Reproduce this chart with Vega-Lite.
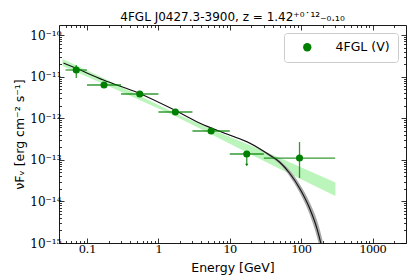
{
  "$schema": "https://vega.github.io/schema/vega-lite/v6.json",
  "width": 347,
  "height": 218,
  "autosize": {"type": "none"},
  "padding": {"left": 59, "top": 25, "right": 14, "bottom": 37},
  "background": "white",
  "title": {"text": "4FGL J0427.3-3900, z = 1.42⁺⁰˙¹²₋₀.₁₀", "font": "DejaVu Sans", "fontSize": 12, "fontWeight": "normal", "color": "black", "offset": 6, "baseline": "alphabetic", "dy": 14},
  "config": {
    "view": {"stroke": null},
    "axis": {"grid": false, "domainColor": "black", "domainWidth": 0.9, "tickColor": "black", "tickWidth": 0.8, "labelColor": "black", "labelFont": "Liberation Serif", "labelFontSize": 13.5, "labelFlush": false, "labelOverlap": false, "titleFont": "DejaVu Sans", "titleFontSize": 12.5, "titleFontWeight": "normal", "titleColor": "black"}
  },
  "datasets": {
    "pts": [
      {"E": 0.0707, "Elo": 0.05, "Ehi": 0.1, "F": 1.44e-11, "Flo": 9.25e-12, "Fhi": 1.90e-11, "src": "4FGL (V)"},
      {"E": 0.173, "Elo": 0.1, "Ehi": 0.3, "F": 6.28e-12, "Flo": 5.9e-12, "Fhi": 6.7e-12, "src": "4FGL (V)"},
      {"E": 0.548, "Elo": 0.3, "Ehi": 1, "F": 3.82e-12, "Flo": 3.6e-12, "Fhi": 4.05e-12, "src": "4FGL (V)"},
      {"E": 1.73, "Elo": 1, "Ehi": 3, "F": 1.41e-12, "Flo": 1.32e-12, "Fhi": 1.5e-12, "src": "4FGL (V)"},
      {"E": 5.48, "Elo": 3, "Ehi": 10, "F": 4.92e-13, "Flo": 4.4e-13, "Fhi": 5.5e-13, "src": "4FGL (V)"},
      {"E": 17.3, "Elo": 10, "Ehi": 30, "F": 1.38e-13, "Flo": 7.5e-14, "Fhi": 1.38e-13, "src": "4FGL (V)"},
      {"E": 94.9, "Elo": 30, "Ehi": 300, "F": 1.10e-13, "Flo": 3.65e-14, "Fhi": 2.68e-13, "src": "4FGL (V)"}
    ],
    "ul": [{"E": 17.3, "F": 7.5e-14}],
    "bfly": [
      {"E": 0.0454, "lo": 1.80e-11, "hi": 2.65e-11},
      {"E": 0.170, "lo": 6.64e-12, "hi": 9.25e-12},
      {"E": 0.526, "lo": 2.80e-12, "hi": 3.57e-12},
      {"E": 1.68, "lo": 1.15e-12, "hi": 1.36e-12},
      {"E": 5.3, "lo": 4.23e-13, "hi": 5.60e-13},
      {"E": 18.9, "lo": 1.39e-13, "hi": 2.27e-13},
      {"E": 49.7, "lo": 6.09e-14, "hi": 1.12e-13},
      {"E": 302, "lo": 1.35e-14, "hi": 2.84e-14}
    ],
    "model": [
      {"E": 0.0469, "F": 2.12e-11, "lo": 2.12e-11, "hi": 2.12e-11},
      {"E": 0.069, "F": 1.61e-11, "lo": 1.61e-11, "hi": 1.61e-11},
      {"E": 0.170, "F": 8.28e-12, "lo": 8.28e-12, "hi": 8.28e-12},
      {"E": 0.526, "F": 4.04e-12, "lo": 4.04e-12, "hi": 4.04e-12},
      {"E": 1.68, "F": 1.57e-12, "lo": 1.57e-12, "hi": 1.57e-12},
      {"E": 3.76, "F": 7.67e-13, "lo": 7.60e-13, "hi": 7.75e-13},
      {"E": 9.90, "F": 3.94e-13, "lo": 3.86e-13, "hi": 4.02e-13},
      {"E": 18.9, "F": 2.53e-13, "lo": 2.44e-13, "hi": 2.62e-13},
      {"E": 36.0, "F": 1.30e-13, "lo": 1.22e-13, "hi": 1.39e-13},
      {"E": 49.7, "F": 8.85e-14, "lo": 8.0e-14, "hi": 9.8e-14},
      {"E": 68.6, "F": 4.82e-14, "lo": 4.10e-14, "hi": 5.65e-14},
      {"E": 94.7, "F": 2.10e-14, "lo": 1.66e-14, "hi": 2.65e-14},
      {"E": 131, "F": 6.93e-15, "lo": 4.98e-15, "hi": 9.68e-15},
      {"E": 169, "F": 2.05e-15, "lo": 1.28e-15, "hi": 3.29e-15},
      {"E": 199, "F": 6.8e-16, "lo": 3.9e-16, "hi": 1.18e-15}
    ]
  },
  "layer": [
    {
      "layer": [
        {
          "data": {"name": "bfly"},
          "mark": {"type": "area", "color": "#90ee90", "opacity": 0.6, "clip": true},
          "encoding": {
            "x": {"field": "E", "type": "quantitative", "scale": {"type": "log", "domain": [0.0405, 2945], "nice": false}, "axis": {
              "orient": "bottom", "title": "Energy [GeV]", "titlePadding": 4,
              "values": [0.05,0.06,0.07,0.08,0.09,0.1,0.2,0.3,0.4,0.5,0.6,0.7,0.8,0.9,1,2,3,4,5,6,7,8,9,10,20,30,40,50,60,70,80,90,100,200,300,400,500,600,700,800,900,1000,2000],
              "labelExpr": "abs(log(datum.value)/LN10 - round(log(datum.value)/LN10)) < 0.01 ? format(datum.value, '~g') : ''",
              "tickSize": {"condition": {"test": "abs(log(datum.value)/LN10 - round(log(datum.value)/LN10)) < 0.01", "value": -5}, "value": -2.5},
              "labelPadding": 3
            }},
            "y": {"field": "lo", "type": "quantitative", "scale": {"type": "log", "domain": [1e-15, 1.74e-10], "nice": false}, "axis": {
              "orient": "left", "title": "νFᵥ [erg cm⁻² s⁻¹]", "titlePadding": 3,
              "labelFont": "DejaVu Serif", "labelFontSize": 12,
              "values": [1e-15,2e-15,3e-15,4e-15,5e-15,6e-15,7e-15,8e-15,9e-15,1e-14,2e-14,3e-14,4e-14,5e-14,6e-14,7e-14,8e-14,9e-14,1e-13,2e-13,3e-13,4e-13,5e-13,6e-13,7e-13,8e-13,9e-13,1e-12,2e-12,3e-12,4e-12,5e-12,6e-12,7e-12,8e-12,9e-12,1e-11,2e-11,3e-11,4e-11,5e-11,6e-11,7e-11,8e-11,9e-11,1e-10],
              "labelExpr": "abs(log(datum.value)/LN10 - round(log(datum.value)/LN10)) < 0.01 ? '10' + ['⁻¹⁰','⁻¹¹','⁻¹²','⁻¹³','⁻¹⁴','⁻¹⁵'][round(-log(datum.value)/LN10) - 10] : ''",
              "tickSize": {"condition": {"test": "abs(log(datum.value)/LN10 - round(log(datum.value)/LN10)) < 0.01", "value": -5}, "value": -2.5},
              "labelPadding": 3
            }},
            "y2": {"field": "hi"}
          }
        },
        {
          "data": {"name": "model"},
          "mark": {"type": "area", "color": "#a8a8a8", "clip": true, "interpolate": "monotone"},
          "encoding": {
            "x": {"field": "E", "type": "quantitative"},
            "y": {"field": "lo", "type": "quantitative"},
            "y2": {"field": "hi"}
          }
        },
        {
          "data": {"name": "model"},
          "mark": {"type": "line", "color": "#111111", "strokeWidth": 1.1, "clip": true, "interpolate": "monotone"},
          "encoding": {
            "x": {"field": "E", "type": "quantitative"},
            "y": {"field": "F", "type": "quantitative"}
          }
        },
        {
          "data": {"name": "pts"},
          "mark": {"type": "rule", "color": "#008000", "opacity": 0.8, "strokeWidth": 1.3},
          "encoding": {
            "x": {"field": "Elo", "type": "quantitative"},
            "x2": {"field": "Ehi"},
            "y": {"field": "F", "type": "quantitative"}
          }
        },
        {
          "data": {"name": "pts"},
          "mark": {"type": "rule", "color": "#008000", "opacity": 0.8, "strokeWidth": 1.3},
          "encoding": {
            "x": {"field": "E", "type": "quantitative"},
            "y": {"field": "Flo", "type": "quantitative"},
            "y2": {"field": "Fhi"}
          }
        },
        {
          "data": {"name": "ul"},
          "mark": {"type": "point", "shape": "triangle-down", "filled": true, "size": 10, "color": "#008000", "opacity": 1},
          "encoding": {
            "x": {"field": "E", "type": "quantitative"},
            "y": {"field": "F", "type": "quantitative"}
          }
        },
        {
          "data": {"name": "pts"},
          "mark": {"type": "point", "filled": true, "size": 50, "opacity": 1},
          "encoding": {
            "x": {"field": "E", "type": "quantitative"},
            "y": {"field": "F", "type": "quantitative"},
            "color": {"field": "src", "type": "nominal", "scale": {"range": ["#008000"]}, "legend": {
              "title": null, "orient": "top-right", "offset": 8, "padding": 8, "strokeColor": "#cccccc", "fillColor": "white", "cornerRadius": 3,
              "symbolType": "circle", "symbolSize": 70, "symbolOffset": 9, "labelOffset": 22, "labelFont": "DejaVu Sans", "labelFontSize": 12.5, "labelColor": "black"
            }}
          }
        }
      ]
    },
    {
      "data": {"name": "bfly"},
      "mark": {"type": "rule", "opacity": 0},
      "encoding": {
        "x": {"field": "E", "type": "quantitative", "scale": {"type": "log", "domain": [0.0405, 2945], "nice": false}, "axis": {
          "orient": "top", "title": null, "labels": false,
          "values": [0.05,0.06,0.07,0.08,0.09,0.1,0.2,0.3,0.4,0.5,0.6,0.7,0.8,0.9,1,2,3,4,5,6,7,8,9,10,20,30,40,50,60,70,80,90,100,200,300,400,500,600,700,800,900,1000,2000],
          "tickSize": {"condition": {"test": "abs(log(datum.value)/LN10 - round(log(datum.value)/LN10)) < 0.01", "value": -5}, "value": -2.5}
        }},
        "y": {"field": "lo", "type": "quantitative", "scale": {"type": "log", "domain": [1e-15, 1.74e-10], "nice": false}, "axis": {
          "orient": "right", "title": null, "labels": false,
          "values": [1e-15,2e-15,3e-15,4e-15,5e-15,6e-15,7e-15,8e-15,9e-15,1e-14,2e-14,3e-14,4e-14,5e-14,6e-14,7e-14,8e-14,9e-14,1e-13,2e-13,3e-13,4e-13,5e-13,6e-13,7e-13,8e-13,9e-13,1e-12,2e-12,3e-12,4e-12,5e-12,6e-12,7e-12,8e-12,9e-12,1e-11,2e-11,3e-11,4e-11,5e-11,6e-11,7e-11,8e-11,9e-11,1e-10],
          "tickSize": {"condition": {"test": "abs(log(datum.value)/LN10 - round(log(datum.value)/LN10)) < 0.01", "value": -5}, "value": -2.5}
        }}
      }
    }
  ],
  "resolve": {"axis": {"x": "independent", "y": "independent"}}
}
